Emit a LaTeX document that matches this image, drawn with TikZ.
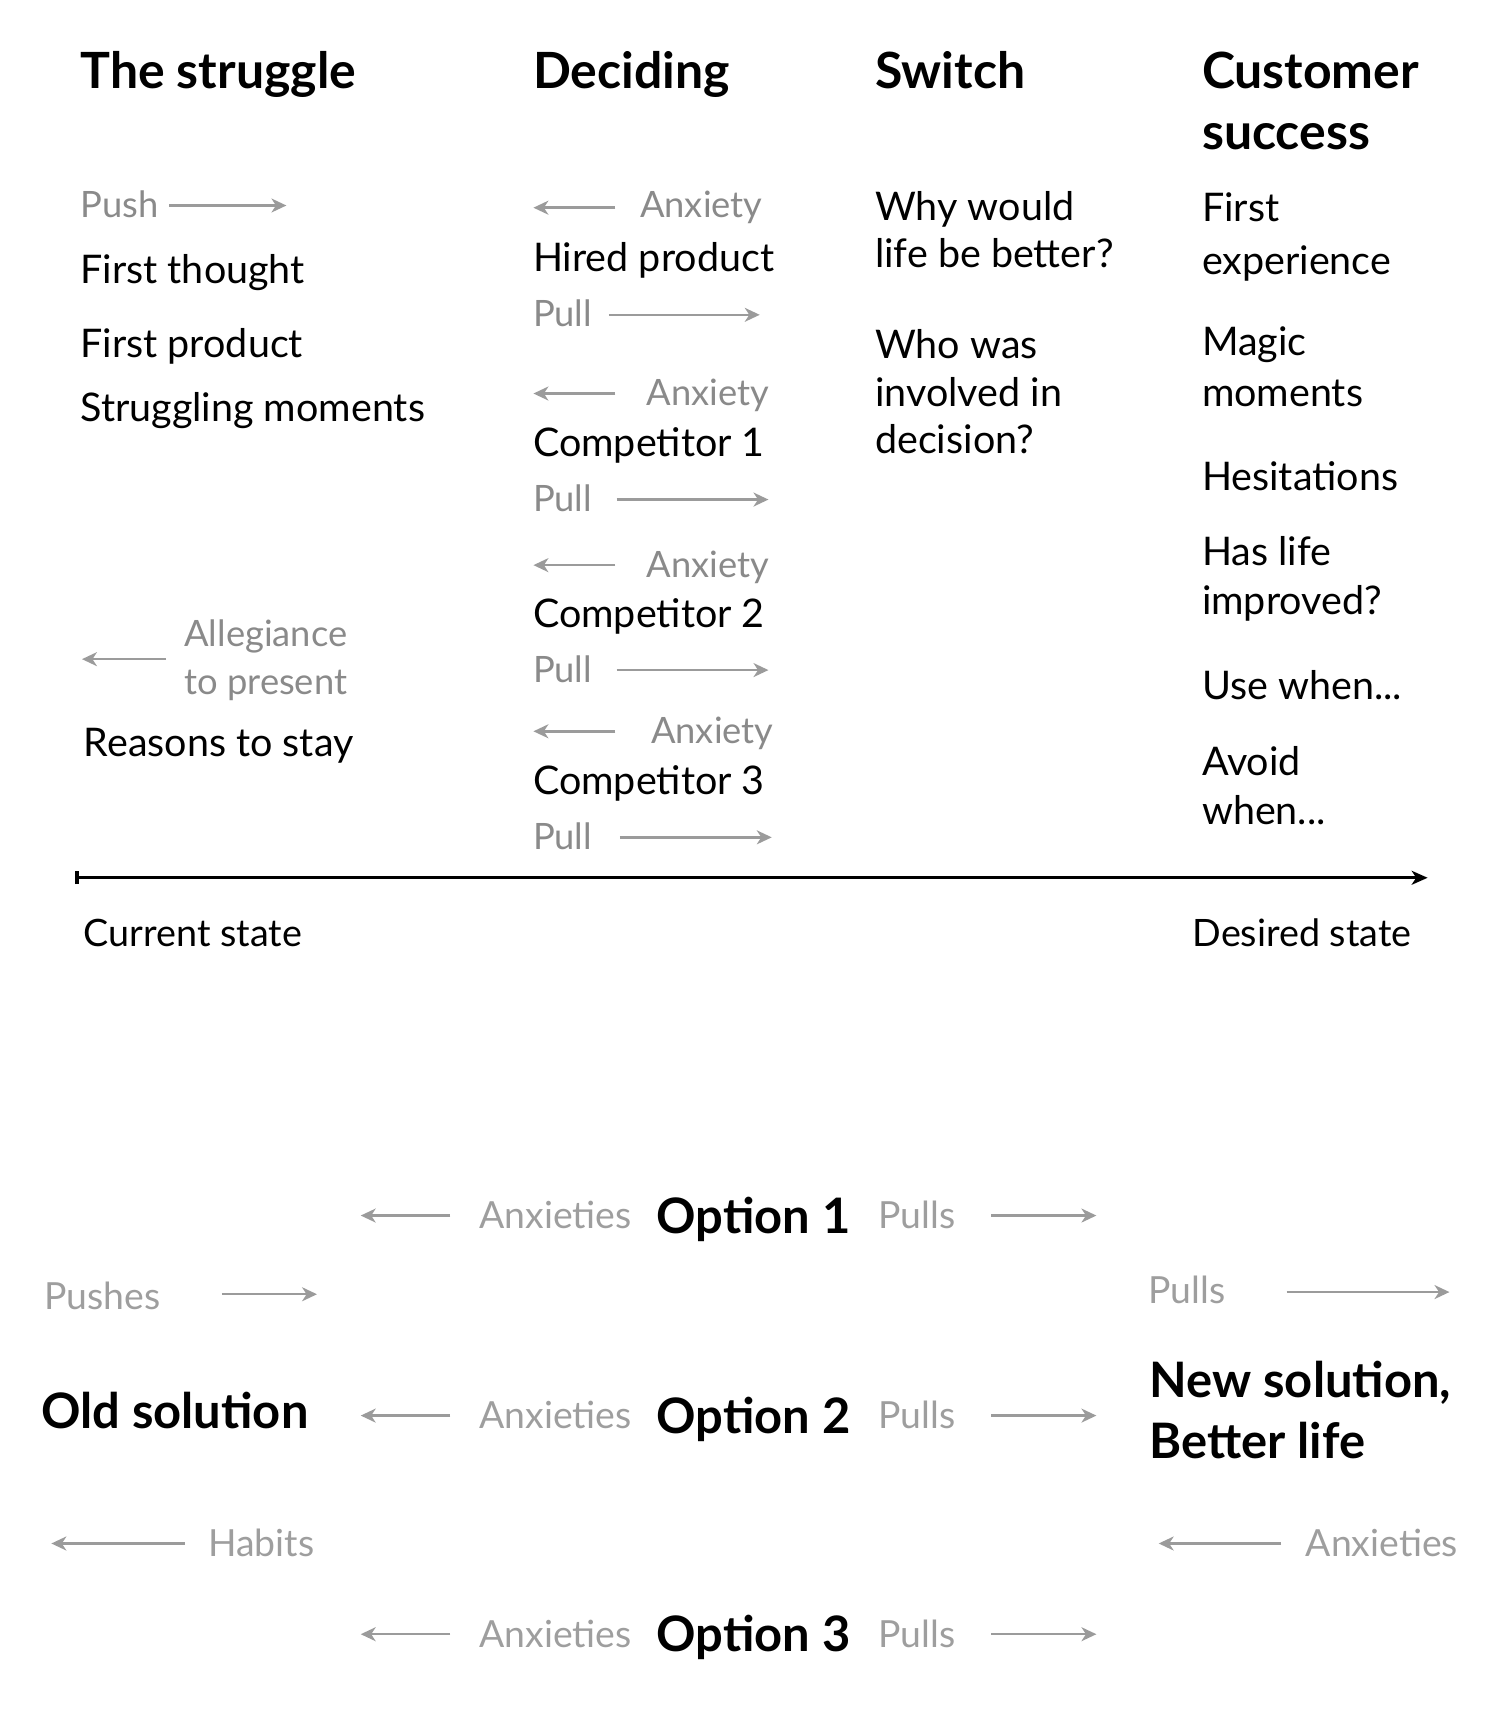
\documentclass[tikz,border=0pt]{standalone}
\usepackage{fontspec}
\setmainfont{Lato}
\definecolor{labelgrey}{RGB}{138,138,138}
\definecolor{arrowgrey}{RGB}{155,155,155}
\definecolor{softgrey}{RGB}{158,158,158}
\usetikzlibrary{arrows.meta}

\begin{document}
\begin{tikzpicture}[x=0.011cm, y=-0.011cm,
  every node/.style={inner sep=0pt, anchor=base west},
  head/.style={font=\fontsize{14.3}{17}\selectfont\bfseries},
  item/.style={font=\fontsize{11.3}{14}\selectfont},
  cue/.style={font=\fontsize{10.4}{13}\selectfont, text=labelgrey},
  big/.style={font=\fontsize{14}{17}\selectfont\bfseries},
  faint/.style={font=\fontsize{10.7}{13}\selectfont, text=softgrey},
  force/.style={draw=arrowgrey, line width=0.7pt, -{Stealth[length=1.5mm, width=1.4mm, inset=0.45mm]}},
  timeline/.style={draw=black, line width=0.9pt, {Bar[width=1.3mm]}-{Stealth[length=1.6mm, width=1.4mm, inset=0.45mm]}}
]
  \useasboundingbox (0,0) rectangle (1372,1568);

  % column headers
  \node[head] (struggle) at (73,81) {The struggle};
  \node[head] (deciding) at (487,81) {Deciding};
  \node[head] (switch) at (800,81) {Switch};
  \node[head] (success1) at (1099,81) {Customer};
  \node[head] (success2) at (1099,137) {success};

  % the struggle
  \node[cue] (push) at (73,199) {Push};
  \coordinate (push-a) at (155,188);
  \coordinate (push-b) at (262,188);
  \draw[force] (push-a) -- (push-b);
  \node[item] (thought) at (73,259) {First thought};
  \node[item] (firstprod) at (73,327) {First product};
  \node[item] (moments) at (73,386) {Struggling moments};
  \coordinate (alleg-a) at (152,603);
  \coordinate (alleg-b) at (75,603);
  \draw[force] (alleg-a) -- (alleg-b);
  \node[cue] (alleg1) at (168,591) {Allegiance};
  \node[cue] (alleg2) at (168,635) {to present};
  \node[item] (stay) at (76,692) {Reasons to stay};

  % deciding
  \coordinate (anx0-a) at (563,190);
  \coordinate (anx0-b) at (488,190);
  \draw[force] (anx0-a) -- (anx0-b);
  \node[cue] (anx0) at (585,199) {Anxiety};
  \node[item] (hired) at (487,248) {Hired product};
  \node[cue] (pull0) at (487,299) {Pull};
  \coordinate (pull0-a) at (557,288);
  \coordinate (pull0-b) at (695,288);
  \draw[force] (pull0-a) -- (pull0-b);

  \coordinate (anx1-a) at (563,360);
  \coordinate (anx1-b) at (488,360);
  \draw[force] (anx1-a) -- (anx1-b);
  \node[cue] (anx1) at (591,371) {Anxiety};
  \node[item] (comp1) at (487,418) {Competitor 1};
  \node[cue] (pull1) at (487,468) {Pull};
  \coordinate (pull1-a) at (564,457);
  \coordinate (pull1-b) at (703,457);
  \draw[force] (pull1-a) -- (pull1-b);

  \coordinate (anx2-a) at (563,517);
  \coordinate (anx2-b) at (488,517);
  \draw[force] (anx2-a) -- (anx2-b);
  \node[cue] (anx2) at (591,528) {Anxiety};
  \node[item] (comp2) at (487,574) {Competitor 2};
  \node[cue] (pull2) at (487,624) {Pull};
  \coordinate (pull2-a) at (564,613);
  \coordinate (pull2-b) at (703,613);
  \draw[force] (pull2-a) -- (pull2-b);

  \coordinate (anx3-a) at (563,669);
  \coordinate (anx3-b) at (488,669);
  \draw[force] (anx3-a) -- (anx3-b);
  \node[cue] (anx3) at (595,680) {Anxiety};
  \node[item] (comp3) at (487,727) {Competitor 3};
  \node[cue] (pull3) at (487,777) {Pull};
  \coordinate (pull3-a) at (567,766);
  \coordinate (pull3-b) at (706,766);
  \draw[force] (pull3-a) -- (pull3-b);

  % switch
  \node[item] (why1) at (800,202) {Why would};
  \node[item] (why2) at (800,245) {life be better?};
  \node[item] (who1) at (800,328) {Who was};
  \node[item] (who2) at (800,372) {involved in};
  \node[item] (who3) at (800,415) {decision?};

  % customer success
  \node[item] (exp1) at (1099,203) {First};
  \node[item] (exp2) at (1099,251) {experience};
  \node[item] (magic1) at (1099,325) {Magic};
  \node[item] (magic2) at (1099,372) {moments};
  \node[item] (hesit) at (1099,449) {Hesitations};
  \node[item] (life1) at (1099,517) {Has life};
  \node[item] (life2) at (1099,562) {improved?};
  \node[item] (use) at (1099,640) {Use when...};
  \node[item] (avoid1) at (1099,709) {Avoid};
  \node[item] (avoid2) at (1099,754) {when...};

  % timeline
  \coordinate (now) at (69,803);
  \coordinate (later) at (1306,803);
  \draw[timeline] (now) -- (later);
  \node[item, font=\fontsize{10.8}{13}\selectfont] (current) at (76,866) {Current state};
  \node[item, font=\fontsize{10.8}{13}\selectfont, anchor=base east] (desired) at (1292,866) {Desired state};

  % forces diagram
  \foreach \y/\n in {1112/1, 1295/2, 1495/3} {
    \coordinate (oa\n-a) at (412,\y);
    \coordinate (oa\n-b) at (330,\y);
    \draw[force] (oa\n-a) -- (oa\n-b);
    \node[faint] (oanx\n) at (438,{\y+12}) {Anxieties};
    \node[big] (opt\n) at (600,{\y+16}) {Option \n};
    \node[faint] (opull\n) at (803,{\y+12}) {Pulls};
    \coordinate (op\n-a) at (907,\y);
    \coordinate (op\n-b) at (1003,\y);
    \draw[force] (op\n-a) -- (op\n-b);
  }

  \node[faint] (pushes) at (40,1198) {Pushes};
  \coordinate (pushes-a) at (203,1184);
  \coordinate (pushes-b) at (290,1184);
  \draw[force] (pushes-a) -- (pushes-b);
  \node[big] (old) at (37,1307) {Old solution};
  \coordinate (habits-a) at (169,1412);
  \coordinate (habits-b) at (47,1412);
  \draw[force] (habits-a) -- (habits-b);
  \node[faint] (habits) at (190,1424) {Habits};

  \node[faint] (pulls) at (1050,1192) {Pulls};
  \coordinate (pulls-a) at (1177,1182);
  \coordinate (pulls-b) at (1326,1182);
  \draw[force] (pulls-a) -- (pulls-b);
  \node[big] (new1) at (1051,1278) {New solution,};
  \node[big] (new2) at (1051,1334) {Better life};
  \coordinate (newanx-a) at (1172,1412);
  \coordinate (newanx-b) at (1060,1412);
  \draw[force] (newanx-a) -- (newanx-b);
  \node[faint] (newanx) at (1194,1424) {Anxieties};
\end{tikzpicture}
\end{document}
